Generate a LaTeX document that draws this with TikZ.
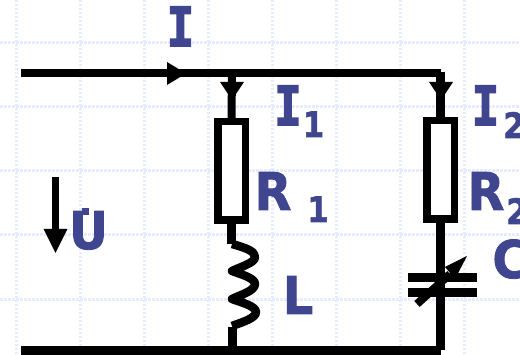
\documentclass[tikz,border=0pt]{standalone}
\usepackage{fontspec}
\newfontfamily\heavy[FakeBold=1.6]{DejaVu Sans Bold}
\newfontfamily\heavyI[FakeBold=3]{DejaVu Sans Mono Bold}
\definecolor{labelblue}{HTML}{3F468F}
\definecolor{gridblue}{HTML}{E6ECFD}
\tikzset{
  gridline/.style={gridblue,line width=3pt,dash pattern=on 2.5pt off 1.5pt},
  wire/.style={black,line width=8pt},
  vwire/.style={black,line width=9pt},
  res/.style={draw=black,fill=white,line width=7.5pt,minimum width=27.5pt,minimum height=98.5pt,inner sep=0pt},
  plate/.style={fill=black,minimum width=69pt,minimum height=9pt,inner sep=0pt},
  tip/.style={fill=black,draw=none},
  lab/.style={text=labelblue,font=\heavy\fontsize{52}{52}\selectfont,inner sep=0pt,anchor=base,xscale=0.92,transform shape},
  subl/.style={text=labelblue,font=\heavy\fontsize{35}{35}\selectfont,inner sep=0pt,anchor=base,xscale=0.88,transform shape},
  ilab/.style={text=labelblue,font=\heavyI\fontsize{54}{54}\selectfont,inner sep=0pt,anchor=base,xscale=0.85,transform shape}
}
\begin{document}
\begin{tikzpicture}[x=1pt,y=-1pt]
\useasboundingbox (0,0) rectangle (520,355);
\clip (0,0) rectangle (520,355);
\fill[white] (0,0) rectangle (520,355);
\foreach \gx in {16,80,144,208,272,336,400,464} \draw[gridline] (\gx,0) -- (\gx,355);
\foreach \gy in {43,107,171,235,300} \draw[gridline] (0,\gy) -- (520,\gy);
% junctions
\coordinate (inT) at (21,73.5);
\coordinate (j1) at (232,73.5);
\coordinate (cT) at (441,73.5);
\coordinate (cTv) at (440.5,72);
\coordinate (inB) at (21,350.5);
\coordinate (j1b) at (232.5,350.5);
\coordinate (cB) at (441,350.5);
\coordinate (cBv) at (440.5,350);
\coordinate (coilT) at (232,244);
\coordinate (coilB) at (232,326);
\coordinate (stubT) at (232.5,327);
\draw[wire] (inT) -- (cT);
\draw[wire,line width=9pt] (inB) -- (cB);
\node[res] (r1) at (231.5,171) {};
\node[res] (r2) at (440.5,170) {};
\draw[wire] (j1) -- (r1.north);
\draw[vwire] (cTv) -- (r2.north);
\draw[vwire] (r1.south) -- (231.5,244);
\draw[vwire] (stubT) -- (j1b);
\draw[black,line width=8.5pt,line join=round] (coilT)
  .. controls (246,248) and (255,251) .. (255,257)
  .. controls (255,263) and (240,267) .. (232,271)
  .. controls (240,274) and (255,278) .. (255,284)
  .. controls (255,291) and (240,295) .. (232,299)
  .. controls (240,302) and (256,306) .. (256,312)
  .. controls (256,318) and (243,322) .. (coilB);
\draw[vwire] (r2.south) -- (cBv);
% capacitor
\node[plate] (p1) at (442.5,277.5) {};
\node[plate] (p2) at (442.5,292.5) {};
\draw[black,line width=8pt] (417,304) -- (450,274);
\fill[black] (467,256) -- (445,267) -- (455,279) -- cycle;
% arrowheads
\fill[tip] (186,73.5) -- (167,62) -- (167,85) -- cycle;
\fill[tip] (232,100) -- (220,82) -- (244,82) -- cycle;
\fill[tip] (441,100) -- (429,82) -- (453,82) -- cycle;
% U arrow
\coordinate (uT) at (55.5,177);
\coordinate (uB) at (55.5,230);
\draw[black,line width=7.5pt] (uT) -- (uB);
\fill[tip] (55.5,253) -- (43.5,229) -- (67.5,229) -- cycle;
% labels
\node[ilab] (tI) at (180.5,46) {I};
\node[ilab] (tI1) at (288,125) {I};
\node[subl] (tI1s) at (313.5,137) {1};
\node[ilab] (tI2) at (485.5,125) {I};
\node[subl] (tI2s) at (514,138) {2};
\node[lab] (tR1) at (273,210) {R};
\node[subl] (tR1s) at (318,222) {1};
\node[lab] (tR2) at (486,210) {R};
\node[subl] (tR2s) at (517,224) {2};
\node[lab] (tL) at (298,314) {L};
\node[lab] (tC) at (510,278) {C};
\node[lab] (tU) at (88.5,249) {U};
\fill[labelblue] (82,208) rectangle (89,215);
\end{tikzpicture}
\end{document}
